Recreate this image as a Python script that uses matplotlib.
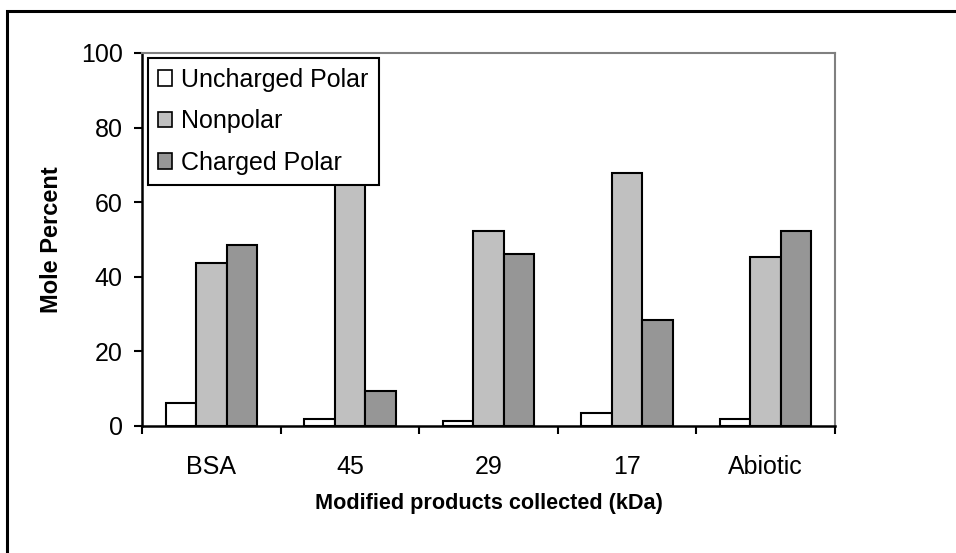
import matplotlib
matplotlib.use("Agg")
import matplotlib.pyplot as plt
import numpy as np
from matplotlib.patches import Rectangle

plt.rcParams['font.family'] = ['Liberation Sans', 'DejaVu Sans']

# Data
categories = ['BSA', '45', '29', '17', 'Abiotic']
uncharged_polar = [6.2, 1.8, 1.4, 3.6, 1.9]
nonpolar = [43.8, 88.8, 52.4, 67.8, 45.4]
charged_polar = [48.5, 9.3, 46.0, 28.4, 52.4]
yticks = [0, 20, 40, 60, 80, 100]

fig = plt.figure(figsize=(9.56, 5.53), dpi=100)
ax = fig.add_axes([0.1485, 0.2297, 0.7249, 0.6745])

# outer frame around the whole chart
fig.patches.append(Rectangle((7 / 956, -0.05), 1.1, 1 - 11 / 553 + 0.05,
                             transform=fig.transFigure, fill=False,
                             edgecolor='black', linewidth=2.2))

x = np.arange(len(categories))
w = 0.22
ekw = dict(edgecolor='black', linewidth=1.5, zorder=2)
ax.bar(x - w, uncharged_polar, w, color='white', label='Uncharged Polar', **ekw)
ax.bar(x, nonpolar, w, color='#c0c0c0', label='Nonpolar', **ekw)
ax.bar(x + w, charged_polar, w, color='#969696', label='Charged Polar', **ekw)

ax.set_xlim(-0.5, len(categories) - 0.5)
ax.set_ylim(0, 100)
ax.set_yticks(yticks)
ax.set_xticks(x)
ax.set_xticklabels(categories)
ax.set_xticks(np.arange(len(categories) + 1) - 0.5, minor=True)
ax.tick_params(axis='x', which='major', length=0, pad=21, labelsize=18)
ax.tick_params(axis='x', which='minor', length=6, width=1.5, direction='out')
ax.tick_params(axis='y', length=6, width=1.5, direction='out', labelsize=18, pad=8)

for s in ['left', 'bottom']:
    ax.spines[s].set_linewidth(1.8)
    ax.spines[s].set_color('black')
for s in ['top', 'right']:
    ax.spines[s].set_linewidth(1.5)
    ax.spines[s].set_color('#808080')

ax.set_xlabel('Modified products collected (kDa)', fontsize=15.6, fontweight='bold', labelpad=10)
ax.set_ylabel('Mole Percent', fontsize=17, fontweight='bold', labelpad=13)

leg = ax.legend(loc='upper left', bbox_to_anchor=(0.009, 0.987), borderaxespad=0,
                fontsize=18, frameon=True, fancybox=False, framealpha=1,
                handlelength=0.56, handleheight=0.56, handletextpad=0.36,
                labelspacing=0.7, borderpad=0.4)
leg.get_frame().set_edgecolor('black')
leg.get_frame().set_linewidth(1.5)
leg.set_zorder(5)
for h in leg.legend_handles:
    h.set_linewidth(1.2)

fig.savefig('out.png', dpi=100)
